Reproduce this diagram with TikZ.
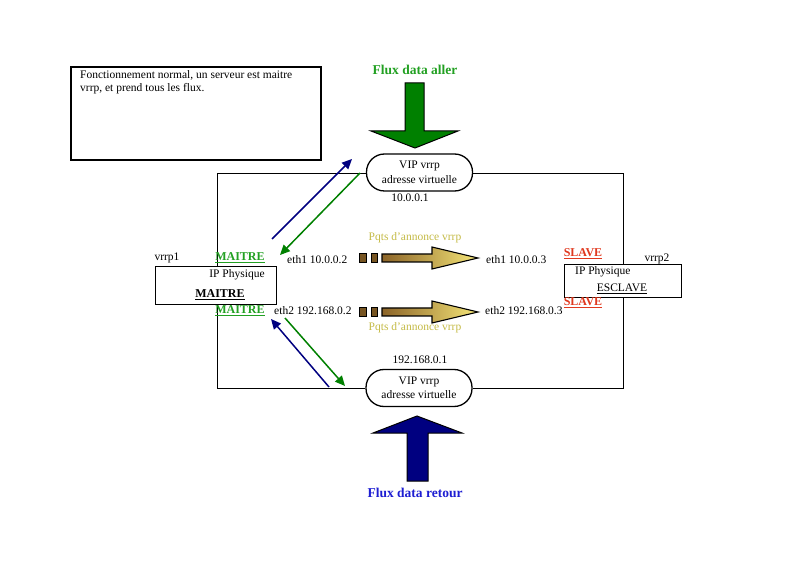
\documentclass[tikz,border=0pt]{standalone}
\usepackage{fontspec}
\setmainfont{Liberation Serif}
\usetikzlibrary{arrows.meta}
\definecolor{textgreen}{RGB}{34,160,34}
\definecolor{flowgreen}{RGB}{0,128,0}
\definecolor{flownavy}{RGB}{0,0,128}
\definecolor{textblue}{RGB}{30,30,210}
\definecolor{annonce}{RGB}{196,186,70}
\definecolor{slavered}{RGB}{224,56,30}
\definecolor{shadedark}{RGB}{140,100,40}
\definecolor{shadelight}{RGB}{245,230,120}
\tikzset{
  txt/.style={font=\fontsize{11.5}{13}\selectfont, inner sep=0pt},
  vip/.style={draw, line width=1.3pt, fill=white, rounded corners=18pt,
    minimum width=106pt, minimum height=37pt, align=center,
    font=\fontsize{11.5}{14.5}\selectfont},
  hostbox/.style={draw, line width=0.8pt, fill=white},
  loop/.style={line width=0.8pt},
  diag/.style={line width=1.5pt, -{Triangle[length=10pt,width=9pt]}},
  master/.style={font=\fontsize{12}{14}\selectfont\bfseries, text=textgreen, inner sep=0pt},
  slave/.style={font=\fontsize{12}{14}\selectfont\bfseries, text=slavered, inner sep=0pt},
  flowlabel/.style={font=\fontsize{13.5}{16}\selectfont\bfseries, inner sep=0pt},
  bigarrow/.style={draw, line width=1pt},
  pqt/.style={draw, line width=1.1pt, left color=shadedark, right color=shadelight},
  sq/.style={draw, line width=0.9pt, fill=shadedark!85!black}
}
\begin{document}
\begin{tikzpicture}[x=1pt,y=-1pt]
\useasboundingbox (0,0) rectangle (793,577);

% note box
\draw[line width=1.5pt] (71,67) rectangle (321,160);
\node[txt, anchor=north west, align=left] (note) at (80,70)
  {Fonctionnement normal, un serveur est maitre\\vrrp, et prend tous les flux.};

% virtual address nodes
\node[vip] (viptop) at (419.5,172.5) {VIP vrrp\\adresse virtuelle};
\node[vip] (vipbot) at (419,388) {VIP vrrp\\adresse virtuelle};
\node[txt] (iptop) at (410,198) {10.0.0.1};
\node[txt] (ipbot) at (420,360) {192.168.0.1};

% loop wiring between the two VIPs
\coordinate (lt) at (217,173);
\coordinate (lb) at (217,388);
\coordinate (rt) at (623,173);
\coordinate (rb) at (623,388);
\draw[loop] (viptop.west |- lt) -- (lt) -- (lb) -- (vipbot.west |- lb);
\draw[loop] (viptop.east |- rt) -- (rt) -- (rb) -- (vipbot.east |- rb);

% physical hosts
\node[hostbox, minimum width=121pt, minimum height=38pt] (host1) at (215.5,285) {};
\node[txt] (ip1) at (237,275) {IP Physique};
\node[txt, font=\fontsize{12}{14}\selectfont\bfseries] (role1) at (220,295) {\underline{MAITRE}};
\node[txt] (name1) at (167,258) {vrrp1};

\node[hostbox, minimum width=117pt, minimum height=33pt] (host2) at (622.5,280.5) {};
\node[txt, anchor=west] (ip2) at (575,272) {IP Physique};
\node[txt] (role2) at (622,289) {\underline{ESCLAVE}};
\node[txt] (name2) at (657,259) {vrrp2};

% role labels
\node[master] (m1) at (240,258) {\underline{MAITRE}};
\node[master] (m2) at (240,311) {\underline{MAITRE}};
\node[slave] (s1) at (583,254) {\underline{SLAVE}};
\node[slave] (s2) at (583,303) {\underline{SLAVE}};

% interface labels
\node[txt, anchor=west] (e11) at (287,260) {eth1 10.0.0.2};
\node[txt, anchor=west] (e21) at (274,311) {eth2 192.168.0.2};
\node[txt, anchor=west] (e12) at (486,260) {eth1 10.0.0.3};
\node[txt, anchor=west] (e22) at (485,311) {eth2 192.168.0.3};

% flows between master and VIPs
\coordinate (bt0) at (272,239);
\coordinate (bt1) at (352,159);
\coordinate (gt0) at (360,173);
\coordinate (gt1) at (280,255);
\coordinate (gb0) at (285,318);
\coordinate (gb1) at (345,386);
\coordinate (bb0) at (329,387);
\coordinate (bb1) at (271,319);
\draw[diag, flownavy] (bt0) -- (bt1);
\draw[diag, flowgreen] (gt0) -- (gt1);
\draw[diag, flowgreen] (gb0) -- (gb1);
\draw[diag, flownavy] (bb0) -- (bb1);

% incoming flow (top)
\node[flowlabel, text=textgreen] (aller) at (415,70) {Flux data aller};
\draw[bigarrow, fill=flowgreen] (405,83) -- (424,83) -- (424,131) -- (458,131)
  -- (415,148) -- (371,131) -- (405,131) -- cycle;

% return flow (bottom)
\draw[bigarrow, fill=flownavy] (407,481) -- (428,481) -- (428,433) -- (462,433)
  -- (417,416) -- (373,433) -- (407,433) -- cycle;
\node[flowlabel, text=textblue] (retour) at (415,493) {Flux data retour};

% vrrp advertisements
\node[txt, text=annonce] (adv1) at (415,238) {Pqts d'annonce vrrp};
\node[txt, text=annonce] (adv2) at (415,328) {Pqts d'annonce vrrp};
\foreach \yc in {258,312}{
  \draw[sq] (359,\yc-5) rectangle (366,\yc+4);
  \draw[sq] (371,\yc-5) rectangle (377,\yc+4);
  \draw[pqt] (382,\yc-4) -- (432,\yc-4) -- (432,\yc-11) -- (478,\yc)
    -- (432,\yc+11) -- (432,\yc+4) -- (382,\yc+4) -- cycle;
}
\end{tikzpicture}
\end{document}
